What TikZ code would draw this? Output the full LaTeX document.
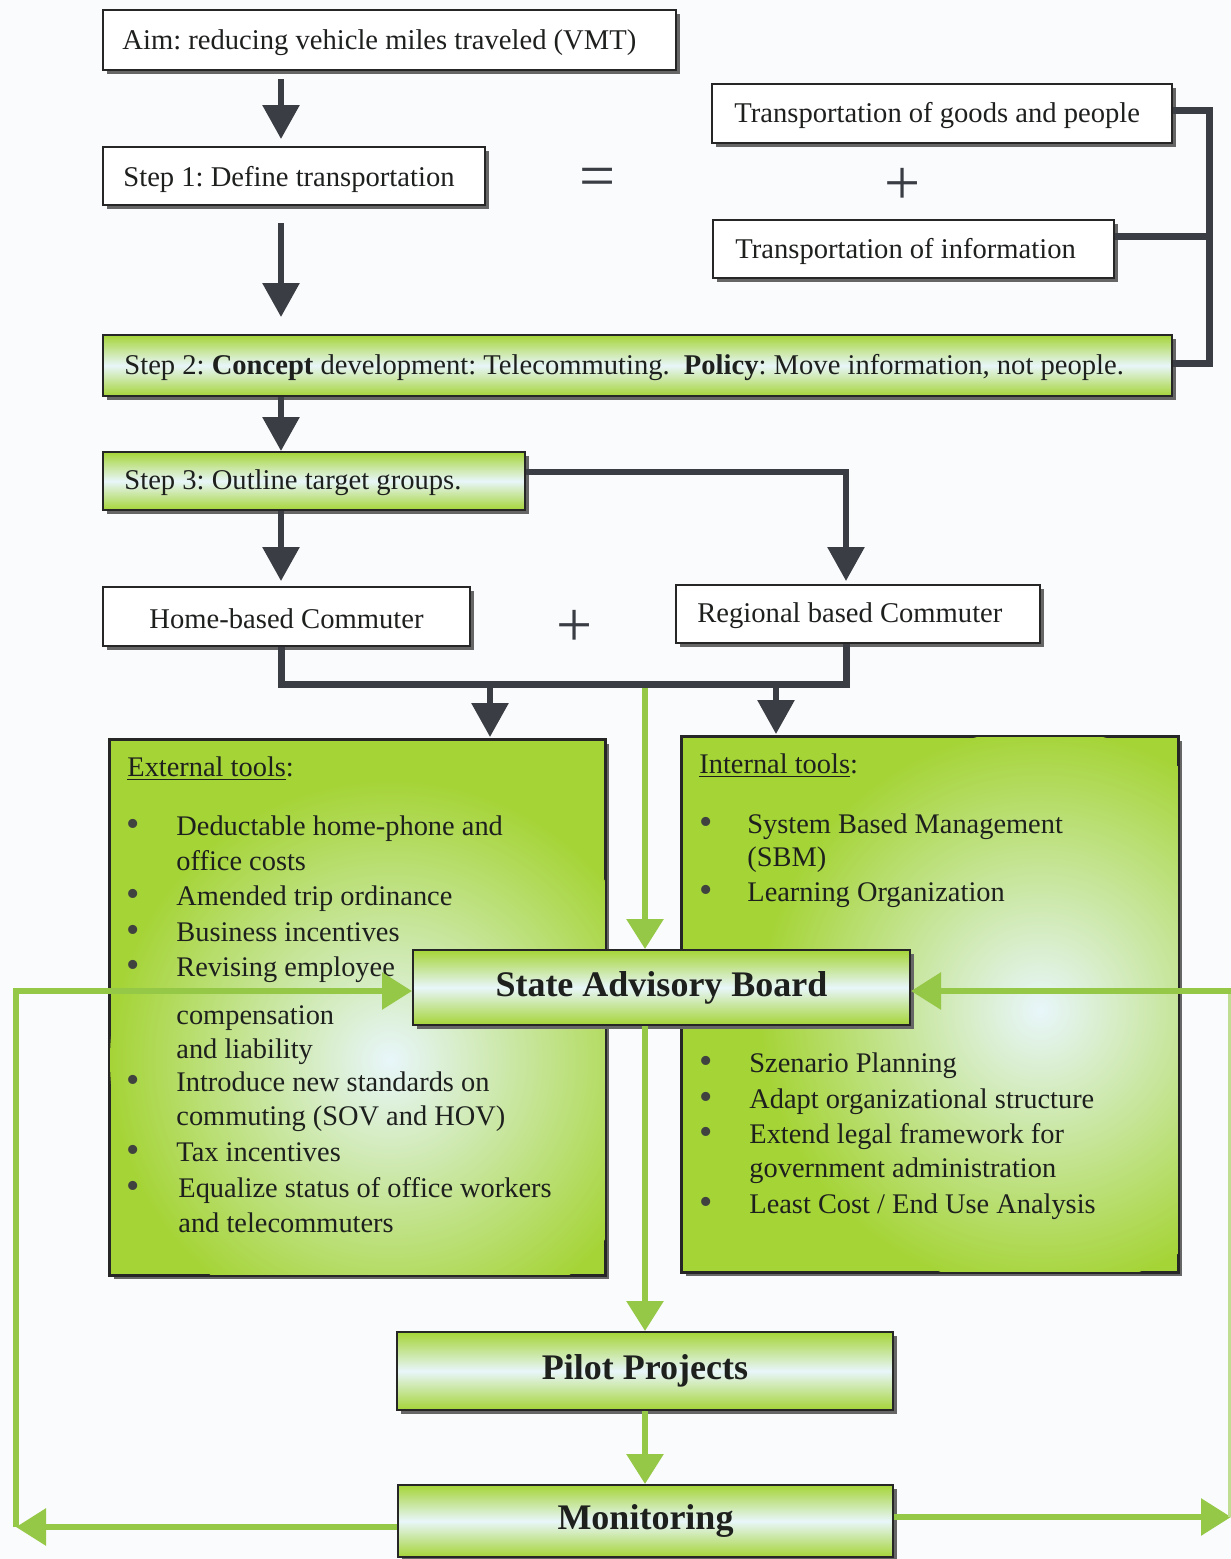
\documentclass[tikz,border=0pt]{standalone}
\usepackage{fontspec}
\setmainfont{Liberation Serif}
\usetikzlibrary{arrows.meta,shadows,calc}
\definecolor{bgreen}{RGB}{165,212,55}
\definecolor{agreen}{RGB}{150,200,72}
\definecolor{dgray}{RGB}{58,62,68}
\definecolor{pale}{RGB}{232,246,250}
\definecolor{bgc}{RGB}{250,251,252}
\definecolor{ink}{RGB}{30,32,30}
\begin{document}
\frenchspacing
\begin{tikzpicture}[x=0.5pt,y=-0.5pt,
  txt/.style={font=\fontsize{14.2}{17.75}\selectfont, text=ink, inner sep=0pt},
  btxt/.style={font=\fontsize{14.3}{17}\selectfont, text=ink, inner sep=0pt, anchor=west},
  base/.style={draw=black!85, line width=1pt, inner sep=0pt,
    drop shadow={shadow xshift=2pt, shadow yshift=-2pt, fill=black!60, opacity=1}},
  wbox/.style={base, fill=white},
  gbox/.style={base, top color=bgreen, bottom color=bgreen, middle color=pale},
  bigbox/.style={base, top color=bgreen, bottom color=bgreen, middle color=pale, align=center,
    text=ink, font=\fontsize{18}{20}\selectfont\bfseries},
  sym/.style={font=\fontsize{32}{32}\selectfont, text=dgray, inner sep=0pt},
  darr/.style={draw=dgray, line width=3pt, -{Triangle[length=17pt,width=18pt]}},
  dline/.style={draw=dgray, line width=3.5pt},
  garr/.style={draw=agreen, line width=3pt, -{Triangle[length=15pt,width=18pt]}},
  gline/.style={draw=agreen, line width=3pt},
  bul/.style={font=\fontsize{19}{19}\selectfont, text=ink!85, inner sep=0pt, anchor=base},
  ln/.style={txt, anchor=base west}
]
\fill[bgc] (0,0) rectangle (1231,1559);
\useasboundingbox (0,0) rectangle (1231,1559);

% ---------- top white boxes ----------
\node[wbox, minimum width=286.5pt, minimum height=30pt] (aim) at (389.5,40) {};
\node[btxt] (aimt) at ([xshift=10pt,yshift=-1.5pt]aim.west) {Aim: reducing vehicle miles traveled (VMT)};
\node[wbox, minimum width=191pt, minimum height=29pt] (step1) at (294,176) {};
\node[btxt] (step1t) at ([xshift=10.5pt,yshift=-1.5pt]step1.west) {Step 1: Define transportation};
\node[wbox, minimum width=230pt, minimum height=29.5pt] (goods) at (942,113.5) {};
\node[btxt] (goodst) at ([xshift=11.5pt,yshift=-1pt]goods.west) {Transportation of goods and people};
\node[wbox, minimum width=200.5pt, minimum height=29pt] (info) at (913.5,249) {};
\node[btxt] (infot) at ([xshift=11.5pt,yshift=-1pt]info.west) {Transportation of information};
\node[sym] (eq) at (598,183) {=};
\node[sym] (plus1) at (903,186) {+};

% ---------- step 2 / step 3 ----------
\node[gbox, minimum width=534.5pt, minimum height=30.5pt] (step2) at (637.5,365.5) {};
\node[btxt] (step2t) at ([xshift=11pt,yshift=-1pt]step2.west)
  {Step 2: \textbf{Concept} development: Telecommuting.\ \ \textbf{Policy}: Move information, not people.};
\node[gbox, minimum width=211pt, minimum height=29pt] (step3) at (314,481) {};
\node[btxt] (step3t) at ([xshift=11pt,yshift=-1pt]step3.west) {Step 3: Outline target groups.};

% ---------- commuters ----------
\node[wbox, minimum width=183.5pt, minimum height=29.5pt] (home) at (286.5,616.5) {};
\node[btxt, anchor=center] (homet) at ([yshift=-1pt]home.center) {Home-based Commuter};
\node[wbox, minimum width=182pt, minimum height=29pt] (regional) at (858,614) {};
\node[btxt] (regionalt) at ([xshift=11pt,yshift=-1pt]regional.west) {Regional based Commuter};
\node[sym] (plus2) at (575,628) {+};

% ---------- tool boxes ----------
\node[base, fill=bgreen, minimum width=247.5pt, minimum height=267.5pt] (ext) at (357.5,1007.5) {};
\node[base, fill=bgreen, minimum width=248pt, minimum height=267.5pt] (int) at (930,1004.5) {};
\begin{scope}
  \clip (ext.south west) rectangle (ext.north east);
  \shade[inner color=pale, outer color=bgreen] (390,1060) circle (140pt);
\end{scope}
\begin{scope}
  \clip (int.south west) rectangle (int.north east);
  \shade[inner color=pale, outer color=bgreen] (1040,1010) circle (140pt);
\end{scope}
\draw[draw=black!85, line width=1pt] (ext.south west) rectangle (ext.north east);
\draw[draw=black!85, line width=1pt] (int.south west) rectangle (int.north east);

% external tools text
\node[ln] (et) at (127,776) {\underline{External tools}:};
\node[bul] (eb1) at (133,836) {•};
\node[ln] (e1) at (176,835) {Deductable home-phone and};
\node[ln] (e2) at (176,870) {office costs};
\node[bul] (eb2) at (133,906) {•};
\node[ln] (e3) at (176,905) {Amended trip ordinance};
\node[bul] (eb3) at (133,942) {•};
\node[ln] (e4) at (176,941) {Business incentives};
\node[bul] (eb4) at (133,977) {•};
\node[ln] (e5) at (176,976) {Revising employee};
\node[ln] (e6) at (176,1024) {compensation};
\node[ln] (e7) at (176,1058) {and liability};
\node[bul] (eb5) at (133,1092) {•};
\node[ln] (e8) at (176,1091) {Introduce new standards on};
\node[ln] (e9) at (176,1125) {commuting (SOV and HOV)};
\node[bul] (eb6) at (133,1162) {•};
\node[ln] (e10) at (176,1161) {Tax incentives};
\node[bul] (eb7) at (133,1198) {•};
\node[ln] (e11) at (178,1197) {Equalize status of office workers};
\node[ln] (e12) at (178,1232) {and telecommuters};

% internal tools text
\node[ln] (it) at (699,773) {\underline{Internal tools}:};
\node[bul] (ib1) at (706,834) {•};
\node[ln] (i1) at (747,833) {System Based Management};
\node[ln] (i2) at (747,866) {(SBM)};
\node[bul] (ib2) at (706,902) {•};
\node[ln] (i3) at (747,901) {Learning Organization};
\node[bul] (ib3) at (706,1073) {•};
\node[ln] (i4) at (749,1072) {Szenario Planning};
\node[bul] (ib4) at (706,1109) {•};
\node[ln] (i5) at (749,1108) {Adapt organizational structure};
\node[bul] (ib5) at (706,1144) {•};
\node[ln] (i6) at (749,1143) {Extend legal framework for};
\node[ln] (i7) at (749,1177) {government administration};
\node[bul] (ib6) at (706,1214) {•};
\node[ln] (i8) at (749,1213) {Least Cost / End Use Analysis};

% ---------- coordinates for connectors ----------
\coordinate (c1) at (281,0);
\coordinate (c2) at (846,0);
\coordinate (c3) at (490,0);
\coordinate (c4) at (776,0);
\coordinate (cg) at (645,0);
\coordinate (xb) at (1209,0);
\coordinate (yg) at (0,110);
\coordinate (yi) at (0,236);
\coordinate (ys2) at (0,363);
\coordinate (y3) at (0,472);
\coordinate (j) at (0,684);
\coordinate (ys) at (0,991);
\coordinate (ml) at (0,1527);
\coordinate (mr) at (0,1517);
\coordinate (xl) at (16,0);
\coordinate (xr) at (1231,0);
\coordinate (xr2) at (1229,0);

% ---------- green lower nodes ----------
\node[bigbox, minimum width=248.5pt, minimum height=37.5pt] (sab) at (661.5,987.5) {State Advisory Board};
\node[bigbox, minimum width=248pt, minimum height=39pt] (pilot) at (645,1371) {Pilot Projects};
\node[bigbox, minimum width=247.5pt, minimum height=36pt] (mon) at (645.5,1521) {Monitoring};
\draw[garr] (cg |- j) -- (sab.north -| cg);

% ---------- dark connectors ----------
\draw[darr, shorten <=4pt, shorten >=3.5pt] (aim.south -| c1) -- (step1.north -| c1);
\draw[darr, shorten <=8.5pt, shorten >=8.5pt] (step1.south -| c1) -- (step2.north -| c1);
\draw[dline] (goods.east |- yg) -- (xb |- yg) -- (xb |- ys2) -- (step2.east |- ys2);
\draw[dline] (info.east |- yi) -- (xb |- yi);
\draw[darr] (step2.south -| c1) -- (step3.north -| c1);
\draw[darr, shorten >=2.5pt] (step3.south -| c1) -- (home.north -| c1);
\draw[darr, shorten >=1.5pt] (step3.east |- y3) -- (c2 |- y3) -- (regional.north -| c2);
\draw[dline] (home.south -| c1) -- (c1 |- j) -- (c2 |- j) -- (regional.south -| c2);
\draw[darr, shorten >=1pt] (c3 |- j) -- (ext.north -| c3);
\draw[darr, shorten >=1pt] (c4 |- j) -- (int.north -| c4);

% ---------- green connectors ----------
\draw[garr] (sab.south -| cg) -- (pilot.north -| cg);
\draw[garr] (pilot.south -| cg) -- (mon.north -| cg);
\draw[garr] (mon.west |- ml) -- (xl |- ml);
\draw[garr] (xl |- ml) -- (xl |- ys) -- (sab.west |- ys);
\draw[garr] (mon.east |- mr) -- (xr |- mr);
\draw[gline, line width=1.5pt, draw=agreen!60] (xr2 |- ys) -- (xr2 |- mr);
\draw[garr] (xr |- ys) -- (sab.east |- ys);
\end{tikzpicture}
\end{document}
